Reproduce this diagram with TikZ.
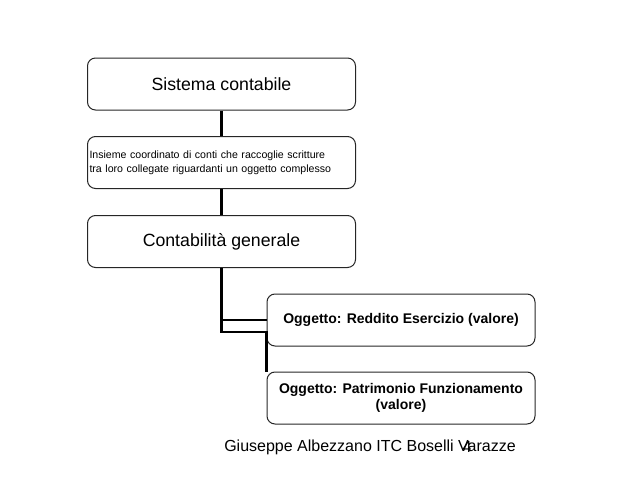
\documentclass[tikz,border=0pt]{standalone}
\usepackage{fontspec}
\setmainfont{Liberation Sans}
\usetikzlibrary{positioning}
\tikzset{
  box/.style={draw=black!85, rounded corners=8pt, line width=1pt,
    minimum width=268pt, minimum height=52pt, inner sep=2pt},
  link/.style={line width=2.5pt},
}
\begin{document}
\begin{tikzpicture}[x=1pt,y=-1pt]
  \useasboundingbox (0,0) rectangle (638,479);
  \node[box, font=\fontsize{17.7}{20}\selectfont] (sistema) at (221.5,84) {Sistema contabile};
  \node[box, align=left, text width=264pt, font=\fontsize{10.6}{14}\selectfont] (insieme) at (221.5,162.5)
    {Insieme coordinato di conti che raccoglie scritture\\tra loro collegate riguardanti un oggetto complesso};
  \node[box, font=\fontsize{17.7}{20}\selectfont] (generale) at (221.5,241.5) {Contabilità generale};
  \node[box, font=\bfseries\fontsize{14}{16}\selectfont] (reddito) at (401,320) {Oggetto: Reddito Esercizio (valore)};
  \node[box, align=center, font=\bfseries\fontsize{14}{16}\selectfont] (patrimonio) at (401,398)
    {Oggetto: Patrimonio Funzionamento\\(valore)};
  \node[font=\fontsize{16}{18}\selectfont] (autore) at (370,447) {Giuseppe Albezzano ITC Boselli Varazze};
  \node[font=\fontsize{16}{18}\selectfont] (pagina) at (467,447) {4};
  % collegamenti
  \draw[link] (sistema) -- (insieme);
  \draw[link] (insieme) -- (generale);
  \draw[link] (generale.south) |- (reddito.west);
  \draw[link] (generale.south) |- ([yshift=-12pt]reddito.west) -- (patrimonio.north west);
\end{tikzpicture}
\end{document}
